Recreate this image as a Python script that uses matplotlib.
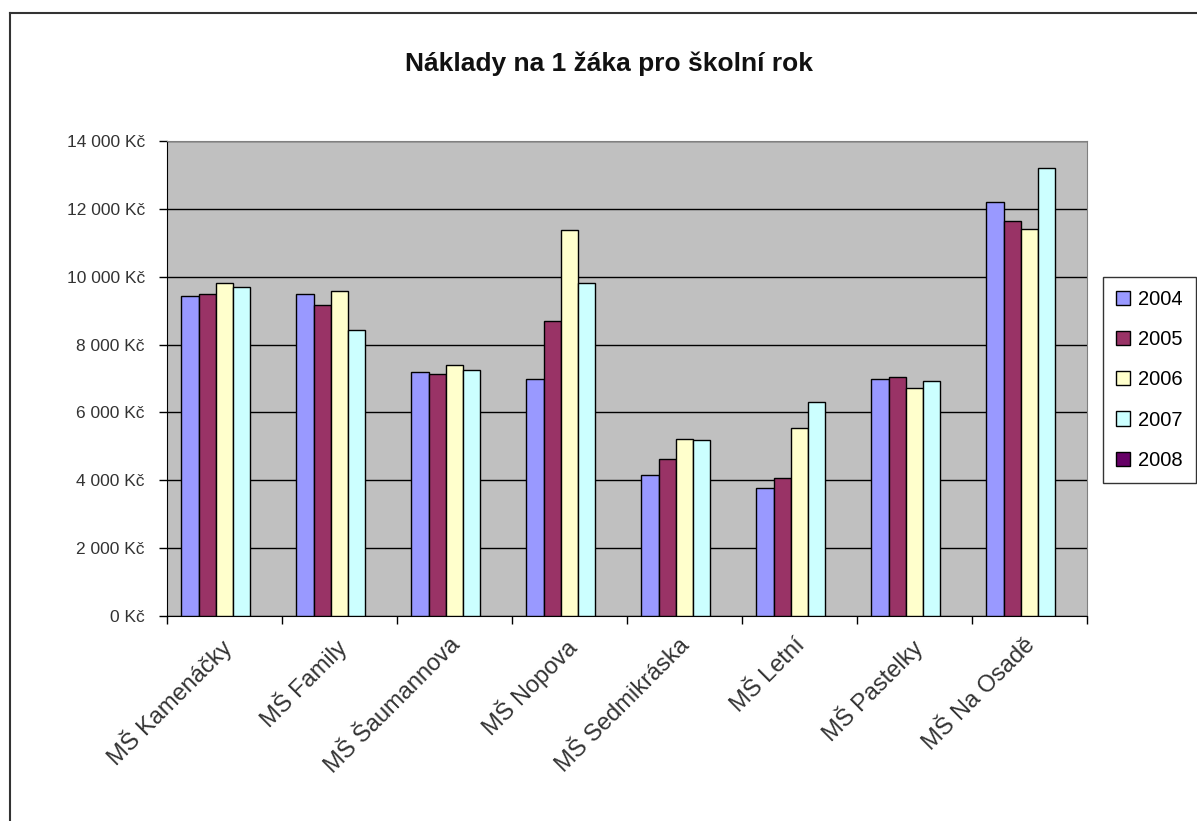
import numpy as np
import matplotlib
matplotlib.use("Agg")
import matplotlib.pyplot as plt
from matplotlib.lines import Line2D
from matplotlib.ticker import FuncFormatter, FixedLocator

plt.rcParams['font.family'] = ['Liberation Sans', 'DejaVu Sans']

# ---------------------------------------------------------
# Data
# ---------------------------------------------------------
schools = ["MŠ Kamenáčky", "MŠ Family", "MŠ Šaumannova", "MŠ Nopova",
           "MŠ Sedmikráska", "MŠ Letní", "MŠ Pastelky", "MŠ Na Osadě"]
years = ["2004", "2005", "2006", "2007", "2008"]

costs_2004 = [9430, 9480, 7180, 6985, 4170, 3760, 6985, 12210]
costs_2005 = [9480, 9165, 7120, 8700, 4620, 4070, 7035, 11640]
costs_2006 = [9820, 9570, 7390, 11380, 5225, 5545, 6730, 11420]
costs_2007 = [9685, 8415, 7240, 9820, 5185, 6320, 6925, 13215]
costs_2008 = [np.nan] * 8  # no data yet

series = [costs_2004, costs_2005, costs_2006, costs_2007, costs_2008]
colors = ["#9999FF", "#993366", "#FFFFCC", "#CCFFFF", "#660066"]

# ---------------------------------------------------------
# Figure
# ---------------------------------------------------------
fig = plt.figure(figsize=(11.97, 8.21), dpi=100)
ax = fig.add_axes([167 / 1197, 1 - 616 / 821, 920 / 1197, 475 / 821])
ax.set_facecolor("#C0C0C0")

x = np.arange(len(schools))
width = 0.15
handles = []
for i, (vals, col) in enumerate(zip(series, colors)):
    bars = ax.bar(x + (i - 2) * width, vals, width, color=col,
                  edgecolor="black", linewidth=1.0, zorder=3, label=years[i])
    handles.append(bars)

ax.set_xlim(-0.5, len(schools) - 0.5)
ax.set_ylim(0, 14000)
ax.set_yticks(np.arange(0, 14001, 2000))
ax.yaxis.set_major_formatter(
    FuncFormatter(lambda v, p: f"{int(v):,} Kč".replace(",", " ")))
ax.grid(axis="y", color="black", linewidth=1.0, zorder=1)

# category labels at centres, tick marks at boundaries
ax.set_xticks(x - 0.05)
ax.set_xticklabels(schools, rotation=45, ha="right", va="top",
                   rotation_mode="anchor", fontsize=17, color="#333333")
ax.tick_params(axis="x", which="major", length=0, pad=13)
ax.xaxis.set_minor_locator(FixedLocator(np.arange(-0.5, len(schools), 1.0)))
ax.tick_params(axis="x", which="minor", length=6, direction="out", width=1)
ax.tick_params(axis="y", length=6, direction="out", width=1, pad=10,
               labelsize=12.5, labelcolor="#333333")

for side in ["top", "right"]:
    ax.spines[side].set_color("#808080")
ax.spines["left"].set_color("black")
ax.spines["bottom"].set_color("black")

fig.text(609 / 1197, 1 - 64 / 821, "Náklady na 1 žáka pro školní rok",
         ha="center", va="center", fontsize=19, fontweight="bold",
         color="#111111")

leg = fig.legend(handles=handles, labels=years, loc="upper left",
                 bbox_to_anchor=(1103 / 1197, 1 - 277 / 821),
                 frameon=True, fancybox=False, fontsize=14.5,
                 handlelength=0.7, handleheight=0.7, handletextpad=0.4,
                 labelspacing=1.05, borderpad=0.65, borderaxespad=0)
leg.get_frame().set_edgecolor("black")
leg.get_frame().set_linewidth(1.0)

# outer chart border (left and top visible)
fig.add_artist(Line2D([10 / 1197, 10 / 1197], [0, 1 - 13 / 821],
                      color="#333333", linewidth=1.5, transform=fig.transFigure))
fig.add_artist(Line2D([10 / 1197, 1], [1 - 13 / 821, 1 - 13 / 821],
                      color="#333333", linewidth=1.5, transform=fig.transFigure))

fig.savefig("out.png", dpi=100)
